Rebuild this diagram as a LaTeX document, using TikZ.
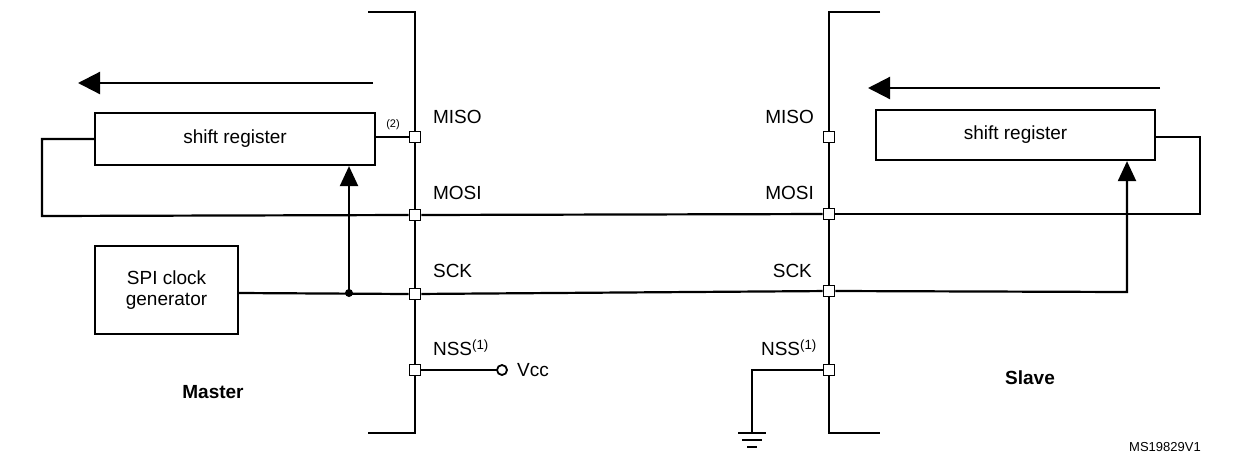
\documentclass[tikz,border=0pt]{standalone}
\usepackage{fontspec}
\setmainfont{Liberation Sans}
\usetikzlibrary{arrows.meta}
\begin{document}
\begin{tikzpicture}[x=1pt,y=-1pt,line width=2.2pt,
  pin/.style={draw,fill=white,line width=1.8pt,minimum size=11pt,inner sep=0pt},
  box/.style={draw,line width=2.2pt,inner sep=0pt},
  lbl/.style={font=\fontsize{19}{21}\selectfont,inner sep=0pt},
  big/.style={-{Triangle[length=22pt,width=22pt]}},
  up/.style={-{Triangle[length=20pt,width=18pt]}}]
\useasboundingbox (0,0) rectangle (1233,459);
% buses
\draw (368,12) -- (415,12) -- (415,433) -- (368,433);
\draw (880,12) -- (829,12) -- (829,433) -- (880,433);
% pins
\node[pin] (mmiso) at (415,137) {};
\node[pin] (mmosi) at (415,215) {};
\node[pin] (msck) at (415,294) {};
\node[pin] (mnss) at (415,370) {};
\node[pin] (smiso) at (829,137) {};
\node[pin] (smosi) at (829,214) {};
\node[pin] (ssck) at (829,291) {};
\node[pin] (snss) at (829,370) {};
% boxes
\node[box,minimum width=280pt,minimum height=52pt,lbl] (msr) at (235,139) {shift register};
\node[box,minimum width=279pt,minimum height=50pt,lbl] (ssr) at (1015.5,135) {shift register};
\node[box,minimum width=143pt,minimum height=88pt,lbl,align=center] (clk) at (166.5,290) {SPI clock\\generator};
% arrows
\coordinate (a1) at (373,83); \coordinate (a2) at (78,83);
\draw[big] (a1) -- (a2);
\coordinate (b1) at (1160,88); \coordinate (b2) at (868,88);
\draw[big] (b1) -- (b2);
% connections
\draw (msr.east |- mmiso) -- (mmiso);
\node[font=\fontsize{11}{12}\selectfont] at (393,125) {(2)};
\draw (msr.west) -- (42,139) -- (42,216) -- (mmosi.west);
\draw (mmosi) -- (smosi);
\coordinate (s137) at (0,137);
\draw (smosi.east) -- (1200,214) -- (1200,137) -- (ssr.east |- s137);
\coordinate (s293) at (0,293);
\draw (clk.east |- s293) -- (msck.west);
\coordinate (d) at (349,293);
\fill (d) circle (4pt);
\draw[up] (d) -- (d |- msr.south);
\draw (msck) -- (ssck);
\coordinate (e) at (1127,292);
\draw[up] (ssck.east) -- (e) -- (e |- ssr.south);
\draw (mnss.east) -- (497,370);
\draw[line width=1.8pt,fill=white] (502,370) circle (5pt);
\node[lbl,anchor=west] at (516,370) {Vcc};
\draw (snss.west) -- (752,370) -- (752,433);
\draw (738,433) -- (766,433); \draw (742,440) -- (762,440); \draw (747,447) -- (757,447);
% labels
\node[lbl,anchor=west] at (432,117) {MISO};
\node[lbl,anchor=west] at (432,193) {MOSI};
\node[lbl,anchor=west] at (432,271) {SCK};
\node[lbl,anchor=west] at (432,348) {NSS\textsuperscript{(1)}};
\node[lbl,anchor=east] at (815,117) {MISO};
\node[lbl,anchor=east] at (815,193) {MOSI};
\node[lbl,anchor=east] at (813,271) {SCK};
\node[lbl,anchor=east] at (818,348) {NSS\textsuperscript{(1)}};
\node[lbl,font=\fontsize{19}{21}\selectfont\bfseries] at (213,392) {Master};
\node[lbl,font=\fontsize{19}{21}\selectfont\bfseries] at (1030,378) {Slave};
\node[font=\fontsize{13}{14}\selectfont] at (1165,447) {MS19829V1};
\end{tikzpicture}
\end{document}
